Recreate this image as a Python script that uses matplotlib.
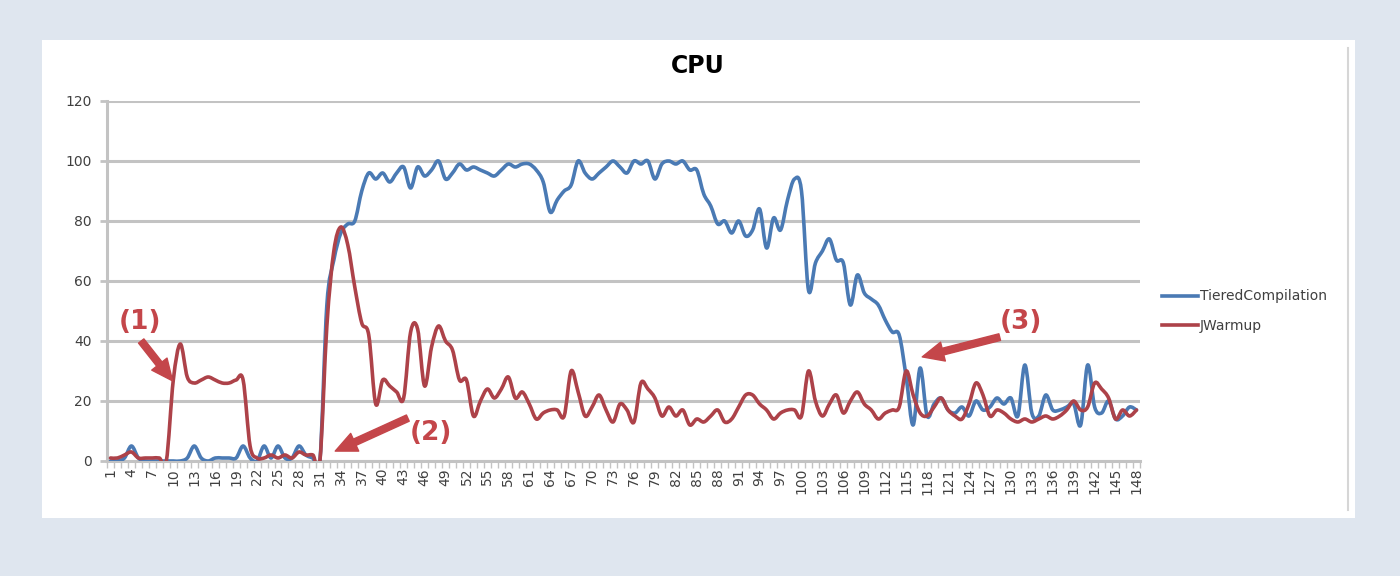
import numpy as np
import matplotlib
matplotlib.use("Agg")
import matplotlib.pyplot as plt
from matplotlib.path import Path
from matplotlib.patches import PathPatch, Rectangle
from matplotlib.lines import Line2D

# sample index 1..148
samples = np.arange(1, 149)

tiered = [
    0, 0, 1, 5, 1, 0, 0, 0, 0, 0,
    0, 1, 5, 1, 0, 1, 1, 1, 1, 5,
    1, 0, 5, 1, 5, 1, 1, 5, 2, 1,
    0, 52, 67, 76, 79, 80, 90, 96, 94, 96,
    93, 96, 98, 91, 98, 95, 97, 100, 94, 96,
    99, 97, 98, 97, 96, 95, 97, 99, 98, 99,
    99, 97, 93, 83, 87, 90, 92, 100, 96, 94,
    96, 98, 100, 98, 96, 100, 99, 100, 94, 99,
    100, 99, 100, 97, 97, 89, 85, 79, 80, 76,
    80, 75, 77, 84, 71, 81, 77, 87, 94, 90,
    57, 66, 70, 74, 67, 66, 52, 62, 56, 54,
    52, 47, 43, 42, 28, 12, 31, 15, 19, 21,
    17, 16, 18, 15, 20, 17, 18, 21, 19, 21,
    15, 32, 16, 15, 22, 17, 17, 18, 19, 12,
    32, 18, 16, 20, 14, 15, 18, 17,
]

jwarmup = [
    1, 1, 2, 3, 1, 1, 1, 1, 0, 27,
    39, 28, 26, 27, 28, 27, 26, 26, 27, 27,
    5, 1, 1, 2, 1, 2, 1, 3, 2, 2,
    0, 45, 70, 78, 72, 58, 46, 42, 19, 27,
    25, 23, 21, 43, 44, 25, 38, 45, 40, 37,
    27, 27, 15, 20, 24, 21, 24, 28, 21, 23,
    19, 14, 16, 17, 17, 15, 30, 23, 15, 18,
    22, 17, 13, 19, 17, 13, 26, 24, 21, 15,
    18, 15, 17, 12, 14, 13, 15, 17, 13, 14,
    18, 22, 22, 19, 17, 14, 16, 17, 17, 15,
    30, 20, 15, 19, 22, 16, 20, 23, 19, 17,
    14, 16, 17, 18, 30, 22, 16, 15, 18, 21,
    17, 15, 14, 19, 26, 22, 15, 17, 16, 14,
    13, 14, 13, 14, 15, 14, 15, 17, 20, 17,
    18, 26, 24, 21, 14, 17, 15, 17,
]

series_names = ["TieredCompilation", "JWarmup"]
y_ticks = [0, 20, 40, 60, 80, 100, 120]

BLUE = "#4a7ab4"
RED = "#ad4249"
ANN = "#c4464a"
GRID = "#c3c3c3"
TXT = "#404040"


def smooth_path(x, y):
    # Catmull-Rom style smoothing, like Excel's "smoothed line"
    pts = np.column_stack([x, y]).astype(float)
    n = len(pts)
    verts = [pts[0]]
    codes = [Path.MOVETO]
    for i in range(n - 1):
        p0 = pts[max(i - 1, 0)]
        p1 = pts[i]
        p2 = pts[i + 1]
        p3 = pts[min(i + 2, n - 1)]
        c1 = p1 + (p2 - p0) / 6.0
        c2 = p2 - (p3 - p1) / 6.0
        verts += [c1, c2, p2]
        codes += [Path.CURVE4] * 3
    return Path(verts, codes)


fig = plt.figure(figsize=(14, 5.76), dpi=100)
fig.patch.set_facecolor("#dfe6ef")
fig.add_artist(Rectangle((42 / 1400, 1 - 518 / 576), 1313 / 1400, 478 / 576,
                         transform=fig.transFigure, facecolor="white",
                         edgecolor="none", zorder=-10))
fig.add_artist(Line2D([1348 / 1400, 1348 / 1400], [1 - 48 / 576, 1 - 510 / 576],
                      transform=fig.transFigure, color="#d6d6d6", lw=1.5))

ax = fig.add_axes([107 / 1400, 1 - 461 / 576, 1033 / 1400, 360 / 576])
ax.set_xlim(0.5, 148.5)
ax.set_ylim(0, 120)

for vals, col in [(tiered, BLUE), (jwarmup, RED)]:
    ax.add_patch(PathPatch(smooth_path(samples, vals), facecolor="none",
                           edgecolor=col, lw=2.6, capstyle="round",
                           joinstyle="round", zorder=3))

ax.set_yticks(y_ticks)
ax.set_yticklabels([str(v) for v in y_ticks], fontsize=10, color=TXT)
ax.yaxis.grid(True, color=GRID, lw=2.2)
ax.set_axisbelow(True)

ax.set_xticks(samples[::3])
ax.set_xticklabels([str(v) for v in samples[::3]], rotation=90, fontsize=10,
                   color=TXT)
ax.set_xticks(np.arange(0.5, 149, 1), minor=True)
ax.tick_params(axis="x", which="major", length=0, pad=5)
ax.tick_params(axis="x", which="minor", length=5, width=1, color=GRID)
ax.tick_params(axis="y", length=5, width=2, color=GRID, pad=6)

for side in ["top", "right"]:
    ax.spines[side].set_visible(False)
for side in ["left", "bottom"]:
    ax.spines[side].set_color(GRID)
    ax.spines[side].set_linewidth(2.2)

fig.text(0.4986, 1 - 66 / 576, "CPU", ha="center", va="center",
         fontsize=17, fontweight="bold", color="black")

# annotations
notes = [("(1)", (5.2, 46.3), (5.4, 40.0), (9.9, 26.7)),
         ("(2)", (46.9, 9.3), (43.6, 14.3), (33.2, 3.3)),
         ("(3)", (131.4, 46.3), (128.4, 41.3), (117.3, 34.7))]
for label, txt_pos, tail, tip in notes:
    ax.text(txt_pos[0], txt_pos[1], label, ha="center", va="center",
            fontsize=19, fontweight="bold", color=ANN, zorder=5)
    ax.annotate("", xy=tip, xytext=tail, annotation_clip=False,
                arrowprops=dict(arrowstyle="simple,head_length=1.1,head_width=1.0,tail_width=0.35",
                                color=ANN, shrinkA=0, shrinkB=0,
                                mutation_scale=14), zorder=5)

handles = [Line2D([], [], color=BLUE, lw=2.6), Line2D([], [], color=RED, lw=2.6)]
leg = fig.legend(handles, series_names, loc="center left",
                 bbox_to_anchor=(1162 / 1400, 1 - 311 / 576), frameon=False,
                 fontsize=10, handlelength=2.6, handletextpad=0.1,
                 labelspacing=1.1, borderaxespad=0, borderpad=0)
for t in leg.get_texts():
    t.set_color(TXT)

fig.savefig("out.png", dpi=100, facecolor=fig.get_facecolor())
